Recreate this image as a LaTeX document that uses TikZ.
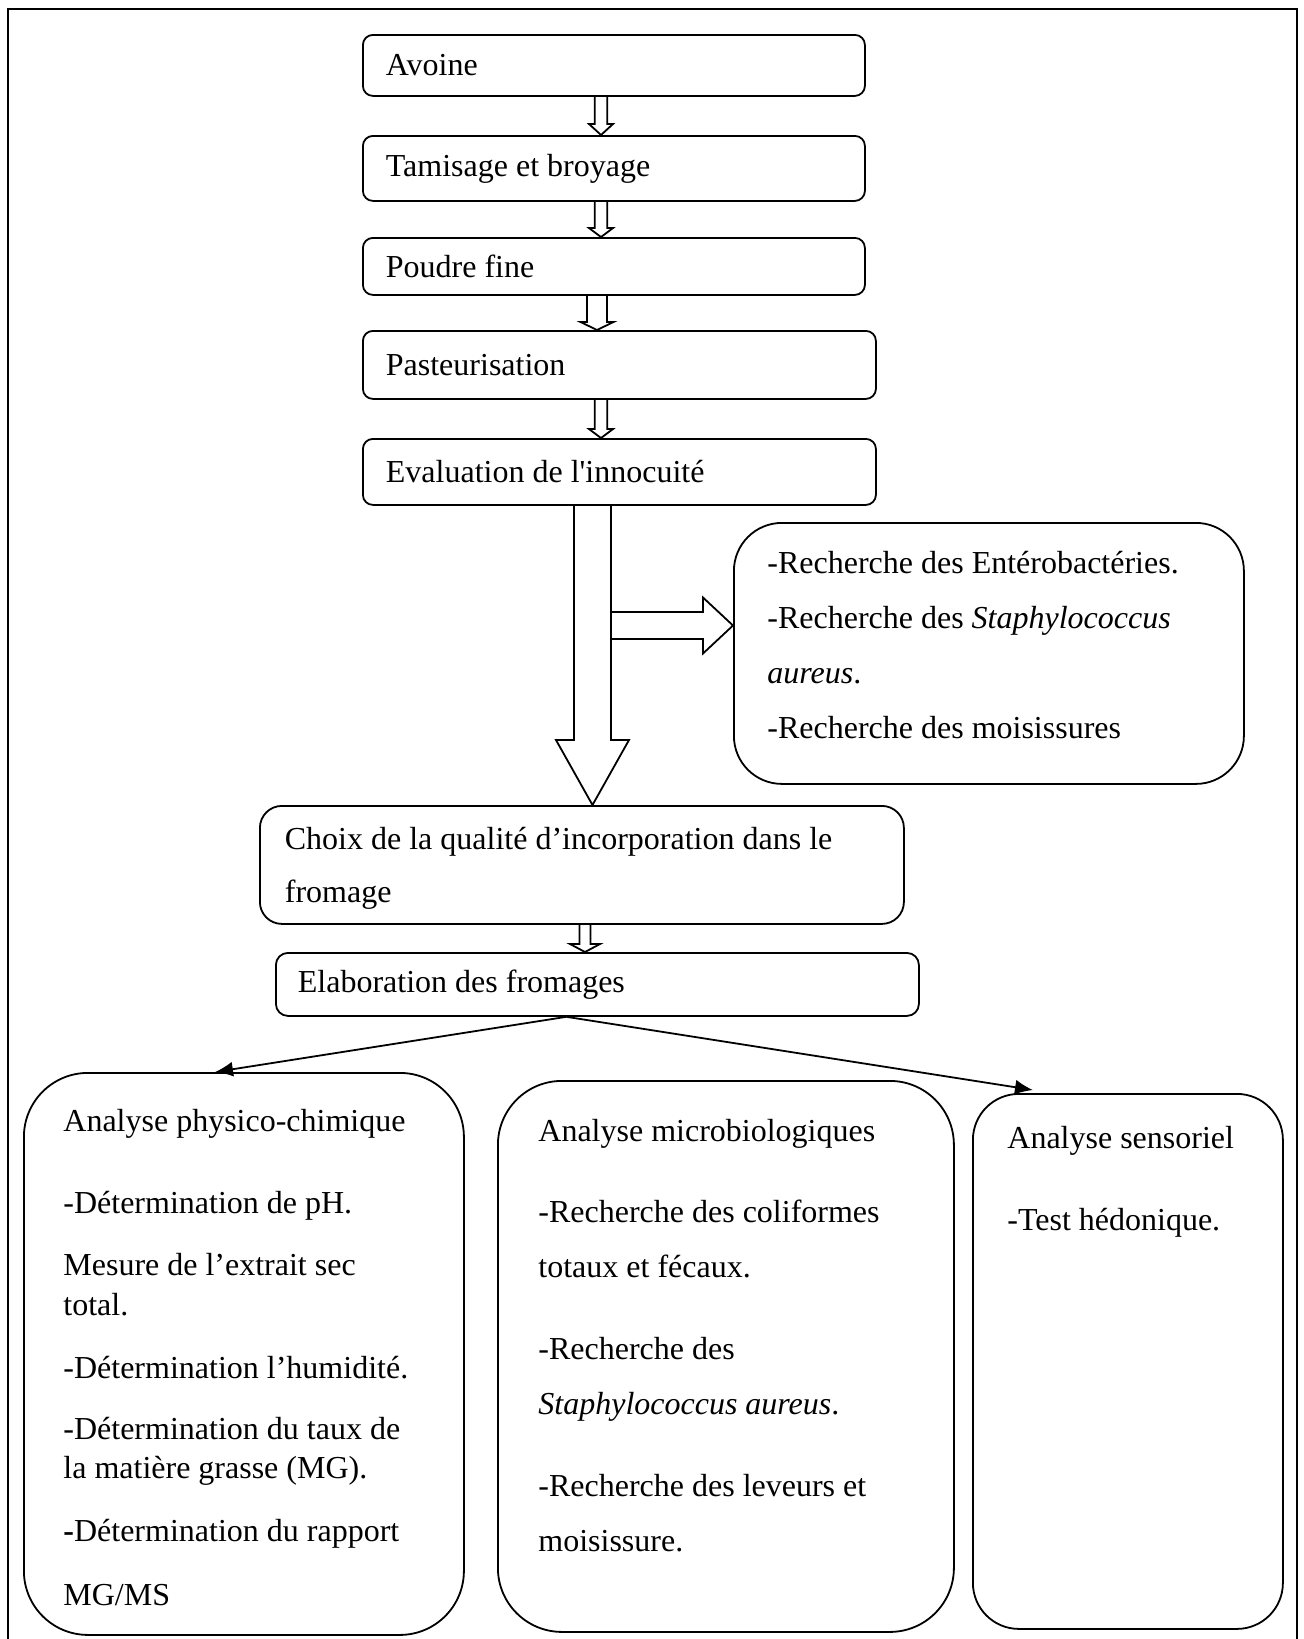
\documentclass[tikz,border=0pt]{standalone}
\usepackage{fontspec}
\setmainfont{Liberation Serif}
\usetikzlibrary{calc,arrows.meta}
\tikzset{
  sbox/.style={draw, line width=0.9pt, rounded corners=5pt, anchor=north west, inner ysep=0pt, align=flush left, font=\fontsize{16}{26.5}\selectfont},
  bigbox/.style={draw, line width=0.9pt, anchor=north west, inner sep=0pt},
  txt/.style={anchor=north west, inner sep=0pt, align=left},
  blk/.style={draw, line width=0.9pt, line join=miter},
  conn/.style={line width=0.9pt, -{Latex[length=9pt,width=7.5pt]}},
}
\newcommand{\blkarrow}[6]{%
  \path (#3,0) coordinate (bx);
  \draw[blk] ($(bx |- #1.south)+(-#4,0)$) -- ($(bx |- #2.north)+(-#4,-#6)$) -- ($(bx |- #2.north)+(-#5,-#6)$) -- (bx |- #2.north) -- ($(bx |- #2.north)+(#5,-#6)$) -- ($(bx |- #2.north)+(#4,-#6)$) -- ($(bx |- #1.south)+(#4,0)$);
}
\begin{document}
\begin{tikzpicture}[x=0.5pt,y=-0.5pt,font=\fontsize{16}{27.5}\selectfont]
\useasboundingbox (0,0) rectangle (1304,1639);
\clip (0,0) rectangle (1304,1639);
\draw[line width=1.2pt] (8,9) rectangle (1297,1700);

% top chain
\node[sbox, inner xsep=11.5pt, text width=228pt, minimum height=30.5pt] (avoine) at (362,34) {Avoine};
\node[sbox, inner xsep=11.5pt, text width=228pt, minimum height=32.5pt] (tamis) at (362,135) {Tamisage et broyage};
\node[sbox, inner xsep=11.5pt, text width=228pt, minimum height=28.5pt] (poudre) at (362,237) {Poudre fine};
\node[sbox, inner xsep=11.5pt, text width=233.5pt, minimum height=34pt] (pasteur) at (362,330) {Pasteurisation};
\node[sbox, inner xsep=11.5pt, text width=233.5pt, minimum height=33pt] (eval) at (362,438) {Evaluation de l\textquotesingle innocuité};
\node[sbox, rounded corners=11pt, inner xsep=12.5pt, text width=297pt, minimum height=59pt] (choix) at (259,805) {\rule{0pt}{15pt}Choix de la qualité d’incorporation dans le\\fromage};
\node[sbox, rounded corners=6pt, inner xsep=11pt, text width=299.5pt, minimum height=31.5pt] (elab) at (275,952) {Elaboration des fromages};

% side box
\node[bigbox, rounded corners=24pt, minimum width=255pt, minimum height=130.5pt] (rech) at (733,522) {};
\node[txt] (rechtxt) at (767,549) {\rule{0pt}{12pt}-Recherche des Entérobactéries.\\-Recherche des \textit{Staphylococcus}\\\textit{aureus}.\\-Recherche des moisissures};

% bottom boxes
\node[bigbox, rounded corners=32pt, minimum width=220pt, minimum height=281pt] (lbox) at (23,1072) {};
\node[bigbox, rounded corners=32pt, minimum width=228pt, minimum height=275.5pt] (mbox) at (497,1080) {};
\node[bigbox, rounded corners=23pt, minimum width=155pt, minimum height=267.5pt] (rbox) at (972,1093) {};

\node[txt, font=\fontsize{16}{19.5}\selectfont] (ltxt) at (63,1107) {\rule{0pt}{12pt}Analyse physico-chimique\\[21.5pt]-Détermination de pH.\\[11.5pt]Mesure de l’extrait sec\\[0.5pt]total.\\[12pt]-Détermination l’humidité.\\[11pt]-Détermination du taux de\\la matière grasse (MG).\\[12pt]\textbf{-}Détermination du rapport\\[12.5pt]MG/MS};
\node[txt] (mtxt) at (538,1117) {\rule{0pt}{12pt}Analyse microbiologiques\\[13pt]-Recherche des coliformes\\totaux et fécaux.\\[13.5pt]-Recherche des\\\textit{Staphylococcus aureus}.\\[13.5pt]-Recherche des leveurs et\\moisissure.};
\node[txt] (rtxt) at (1007,1124) {\rule{0pt}{12pt}Analyse sensoriel\\[13.5pt]-Test hédonique.};

% block arrows
\blkarrow{avoine}{tamis}{601}{6.3}{12}{11}
\blkarrow{tamis}{poudre}{601}{6.3}{12}{9}
\blkarrow{poudre}{pasteur}{597}{10}{16.5}{8}
\blkarrow{pasteur}{eval}{601}{6.3}{12}{9}
\blkarrow{eval}{choix}{592.5}{18.5}{36.5}{65}
\blkarrow{choix}{elab}{585}{5.5}{15}{8}

% side block arrow
\coordinate (shR) at (611,625.5);
\draw[blk] ($(shR)+(0,-13.5)$) -- ($(rech.west |- shR)+(-30,-13.5)$) -- ($(rech.west |- shR)+(-30,-28)$) -- (rech.west |- shR) -- ($(rech.west |- shR)+(-30,28)$) -- ($(rech.west |- shR)+(-30,13.5)$) -- ($(shR)+(0,13.5)$);

% connectors
\coordinate (esrc) at ($(elab.south)+(-31,0)$);
\draw[conn] (esrc) -- ($(lbox.north west)+(192,0)$);
\draw[conn] (esrc) -- ($(rbox.north west)+(61,-3)$);
\end{tikzpicture}
\end{document}
